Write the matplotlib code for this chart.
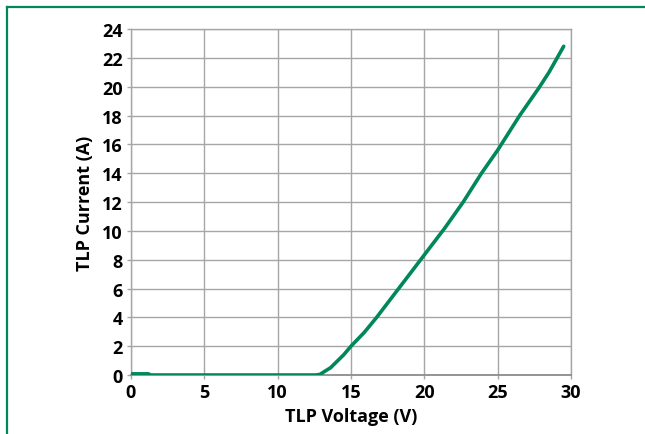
import matplotlib
matplotlib.use("Agg")
import matplotlib.pyplot as plt
from matplotlib.lines import Line2D

# TLP I-V curve
voltage = [0.0, 1.2, 1.3, 12.6, 12.9, 13.2, 13.6, 14.0, 14.5, 15.0, 15.9, 16.75,
           18.25, 19.75, 21.4, 22.65, 23.9, 25.0, 26.5, 27.8, 28.5, 29.5]
current = [0.08, 0.08, 0.0, 0.0, 0.05, 0.25, 0.5, 0.9, 1.4, 2.0, 2.95, 4.0,
           6.0, 8.0, 10.2, 12.0, 14.0, 15.6, 18.0, 19.9, 21.0, 22.8]

x_ticks = [0, 5, 10, 15, 20, 25, 30]
y_ticks = list(range(0, 25, 2))

green = '#00875a'
grid_col = '#a6a6a6'

plt.rcParams['font.family'] = ['Open Sans', 'DejaVu Sans']

fig = plt.figure(figsize=(6.45, 4.35), dpi=100)
ax = fig.add_axes([0.2031, 0.1356, 0.6822, 0.7954])

ax.plot(voltage, current, color=green, linewidth=2.6, solid_capstyle='round',
        solid_joinstyle='round', zorder=3)

ax.set_xlim(0, 30)
ax.set_ylim(0, 24)
ax.set_xticks(x_ticks)
ax.set_yticks(y_ticks)
ax.grid(True, color=grid_col, linewidth=1.0)
ax.set_axisbelow(True)
for s in ax.spines.values():
    s.set_color(grid_col)
    s.set_linewidth(1.0)
ax.spines['bottom'].set_color('#8c8c8c')
ax.spines['bottom'].set_linewidth(1.3)

ax.tick_params(axis='both', length=3, width=1, color=grid_col,
               labelsize=13, pad=3)
for lab in ax.get_xticklabels() + ax.get_yticklabels():
    lab.set_fontweight('bold')

ax.set_xlabel('TLP Voltage (V)', fontsize=13, fontweight='bold', labelpad=4)
ax.set_ylabel('TLP Current (A)', fontsize=13, fontweight='bold', labelpad=6)

# green frame around the figure (top and left edges visible)
fig.add_artist(Line2D([0.0101, 1.0], [0.9816, 0.9816], transform=fig.transFigure,
                      color=green, linewidth=1.6))
fig.add_artist(Line2D([0.0101, 0.0101], [0.0, 0.9816], transform=fig.transFigure,
                      color=green, linewidth=1.6))

fig.savefig('out.png', dpi=100)
